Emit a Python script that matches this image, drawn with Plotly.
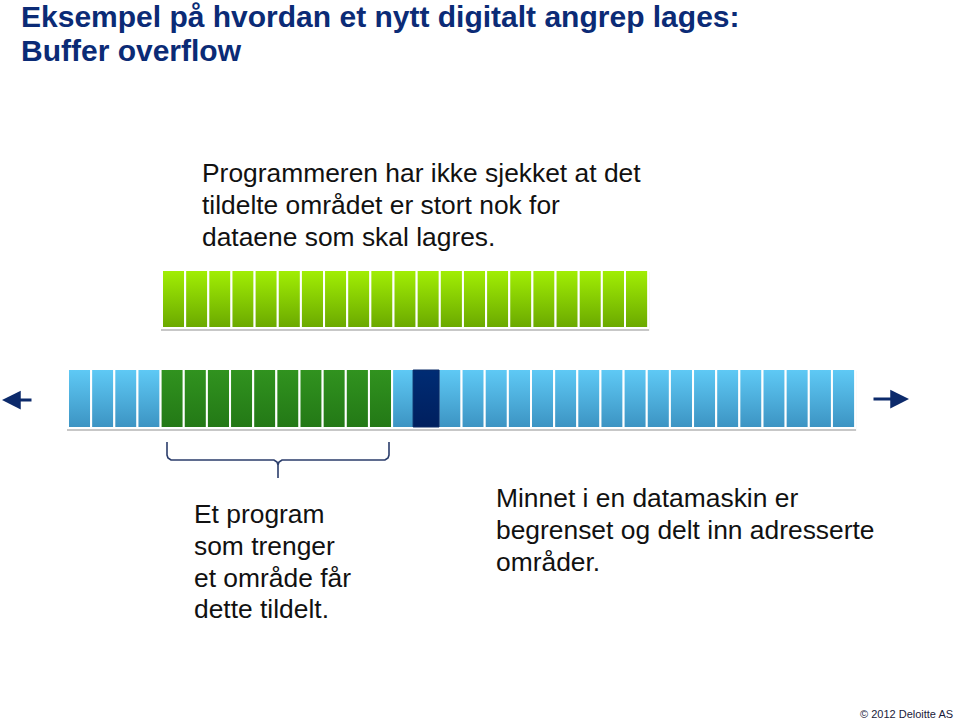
import plotly.graph_objects as go

# ---------------- data ----------------
title_lines = ["Eksempel på hvordan et nytt digitalt angrep lages:", "Buffer overflow"]
intro_lines = ["Programmeren har ikke sjekket at det", "tildelte området er stort nok for", "dataene som skal lagres."]
program_lines = ["Et program", "som trenger", "et område får", "dette tildelt."]
memory_lines = ["Minnet i en datamaskin er", "begrenset og delt inn adresserte", "områder."]
footer_text = "© 2012 Deloitte AS"

data_cells = list(range(21))            # data that should be stored (top row)
memory_cells = list(range(34))          # addressed memory cells
allocated_cells = list(range(4, 14))    # area given to the program
marker_cell = 15                         # other program's cell

# ---------------- layout constants ----------------
W, H = 959, 721
CELL_W = 23.15
TOP_X0, TOP_Y0, TOP_Y1 = 162, 270, 328
MEM_X0, MEM_Y0, MEM_Y1 = 68, 369, 428

# colorscale: 0 = bottom, 1 = top
LIME = [[0, "#6aa800"], [1, "#a2ef04"]]
SKY = [[0, "#3c93c2"], [1, "#5fcaf6"]]
FOREST = [[0, "#237816"], [1, "#31931f"]]
NAVY = [[0, "#001f5e"], [1, "#002c74"]]

fig = go.Figure()


def cell(x0, x1, y0, y1, cs, lw=2, lc="white"):
    fig.add_trace(go.Scatter(
        x=[x0, x1, x1, x0, x0], y=[y0, y0, y1, y1, y0],
        mode="lines", fill="toself",
        fillgradient=dict(type="vertical", colorscale=cs),
        line=dict(color=lc, width=lw), hoverinfo="skip", showlegend=False))


# shadows
top_x1 = TOP_X0 + len(data_cells) * CELL_W
mem_x1 = MEM_X0 + len(memory_cells) * CELL_W
for (x0, x1, y0, y1) in [(TOP_X0, top_x1, TOP_Y0, TOP_Y1), (MEM_X0, mem_x1, MEM_Y0, MEM_Y1)]:
    fig.add_shape(type="rect", x0=x0 - 1, x1=x1 + 1, y0=y0 + 2, y1=y1 + 3,
                  line=dict(width=0), fillcolor="rgba(0,0,0,0.22)", layer="below")

for i in data_cells:
    x0 = TOP_X0 + i * CELL_W
    cell(x0, x0 + CELL_W, TOP_Y0, TOP_Y1, LIME)

for i in memory_cells:
    x0 = MEM_X0 + i * CELL_W
    cs = FOREST if i in allocated_cells else SKY
    cell(x0, x0 + CELL_W, MEM_Y0, MEM_Y1, cs)

# marker cell (slightly offset, sits on top)
mx0 = MEM_X0 + (marker_cell - 1) * CELL_W + 21
cell(mx0, mx0 + 26, MEM_Y0 + 1, MEM_Y1 - 1, NAVY, lw=1, lc="#0a2a66")

# brace
bx0, bx1, bmid = 167, 389, 278
fig.add_trace(go.Scatter(
    x=[bx0, bx0, bx0 + 1, bx0 + 4, bmid - 4, bmid - 1, bmid, bmid, bmid, bmid + 1, bmid + 4, bx1 - 4, bx1 - 1, bx1, bx1],
    y=[442, 455, 458, 460, 460, 462, 465, 478, 465, 462, 460, 460, 458, 455, 442],
    mode="lines", line=dict(color="#2b3d6b", width=1.6), hoverinfo="skip", showlegend=False))

# arrows
arrow_col = "#0c2a6b"
fig.add_annotation(x=2, y=400, ax=33, ay=400, xref="x", yref="y", axref="x", ayref="y",
                   showarrow=True, arrowhead=2, arrowsize=1.25, arrowwidth=3, arrowcolor=arrow_col, text="")
fig.add_annotation(x=909, y=399, ax=872, ay=399, xref="x", yref="y", axref="x", ayref="y",
                   showarrow=True, arrowhead=2, arrowsize=1.25, arrowwidth=3, arrowcolor=arrow_col, text="")

FONT = "Liberation Sans, Arial, sans-serif"


def lines(texts, x, baselines, size, color, bold=False):
    for t, b in zip(texts, baselines):
        txt = f"<b>{t}</b>" if bold else t
        fig.add_annotation(x=x, y=b - 0.34 * size, xref="x", yref="y", text=txt, showarrow=False,
                           xanchor="left", yanchor="middle", borderpad=0,
                           font=dict(family=FONT, size=size, color=color))


lines(title_lines, 20, [27, 61], 30, "#0b2b76", bold=True)
lines(intro_lines, 201, [182, 214, 246], 26.4, "#111111")
lines(program_lines, 193, [523, 555, 587, 618], 26.4, "#111111")
lines(memory_lines, 495, [507, 539, 571], 26.4, "#111111")
fig.add_annotation(x=955, y=714, xref="x", yref="y", text=footer_text, showarrow=False,
                   xanchor="right", yanchor="middle", font=dict(family=FONT, size=11, color="#1a1a3a"))

fig.update_layout(
    width=W, height=H, margin=dict(l=0, r=0, t=0, b=0),
    paper_bgcolor="white", plot_bgcolor="white",
    xaxis=dict(range=[0, W], visible=False, fixedrange=True),
    yaxis=dict(range=[H, 0], visible=False, fixedrange=True),
    showlegend=False,
)

fig.write_html("out.html", config={"displayModeBar": False, "staticPlot": True},
               post_script="document.body.style.margin='0px';document.body.style.overflow='hidden';")
